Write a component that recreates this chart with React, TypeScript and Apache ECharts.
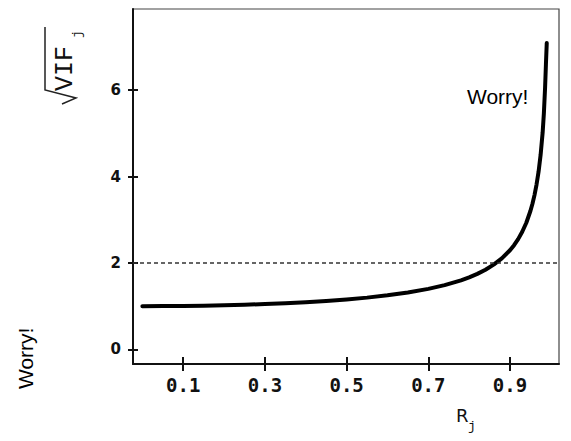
import React, { useEffect, useRef } from "react";
import * as echarts from "echarts";

const rValues = [0, 0.05, 0.1, 0.15, 0.2, 0.25, 0.3, 0.35, 0.4, 0.45, 0.5, 0.55, 0.6, 0.65, 0.7, 0.74, 0.78, 0.8, 0.82, 0.84, 0.86, 0.88, 0.9, 0.91, 0.92, 0.93, 0.94, 0.95, 0.955, 0.96, 0.965, 0.97, 0.975, 0.98, 0.983, 0.986, 0.988, 0.99];
const sqrtVif = [1.0, 1.001, 1.005, 1.011, 1.021, 1.033, 1.048, 1.068, 1.091, 1.12, 1.155, 1.197, 1.25, 1.316, 1.4, 1.487, 1.598, 1.667, 1.747, 1.843, 1.96, 2.105, 2.294, 2.412, 2.552, 2.721, 2.931, 3.203, 3.371, 3.571, 3.815, 4.113, 4.503, 5.025, 5.468, 6.074, 6.6, 7.09];
const xTicks = [0.1, 0.3, 0.5, 0.7, 0.9];
const yTicks = [0, 2, 4, 6];
const threshold = 2;

export default function App() {
  const ref = useRef<HTMLDivElement>(null);
  useEffect(() => {
    if (!ref.current) return;
    const chart = echarts.init(ref.current, undefined, { renderer: "svg" });
    const xBase = {
      type: "value" as const,
      min: -0.023,
      max: 1.02,
      splitLine: { show: false },
    };
    const yBase = {
      type: "value" as const,
      min: -0.34,
      max: 7.88,
      splitLine: { show: false },
    };
    chart.setOption({
      animation: false,
      backgroundColor: "#fff",
      grid: {
        left: 133,
        right: 12,
        top: 9,
        bottom: 77,
        show: true,
        borderColor: "#444",
        borderWidth: 1.2,
        outerBoundsMode: "none",
      },
      xAxis: [
        {
          ...xBase,
          position: "bottom",
          axisLine: { show: true, onZero: false, lineStyle: { color: "#111", width: 2 } },
          axisTick: { show: true, customValues: xTicks, length: 7, lineStyle: { color: "#111", width: 2 } },
          axisLabel: {
            customValues: xTicks,
            formatter: (v: number) => v.toFixed(1),
            margin: 11,
            fontFamily: "DejaVu Sans Mono",
            fontWeight: "bold",
            fontSize: 19,
            color: "#111",
          },
        },
        {
          ...xBase,
          position: "bottom",
          axisLine: { show: false, onZero: false },
          axisTick: { show: true, inside: true, customValues: xTicks, length: 7, lineStyle: { color: "#111", width: 2 } },
          axisLabel: { show: false },
        },
      ],
      yAxis: [
        {
          ...yBase,
          position: "left",
          axisLine: { show: true, onZero: false, lineStyle: { color: "#111", width: 2 } },
          axisTick: { show: true, customValues: yTicks, length: 5, lineStyle: { color: "#111", width: 2 } },
          axisLabel: {
            customValues: yTicks,
            margin: 12,
            fontFamily: "DejaVu Sans",
            fontWeight: "bold",
            fontSize: 15,
            color: "#111",
          },
        },
        {
          ...yBase,
          position: "left",
          axisLine: { show: false, onZero: false },
          axisTick: { show: true, inside: true, customValues: yTicks, length: 5, lineStyle: { color: "#111", width: 2 } },
          axisLabel: { show: false },
        },
      ],
      series: [
        {
          type: "line",
          data: rValues.map((r, i) => [r, sqrtVif[i]]),
          smooth: false,
          showSymbol: false,
          lineStyle: { color: "#000", width: 4, join: "round", cap: "round" },
          markLine: {
            silent: true,
            symbol: "none",
            label: { show: false },
            lineStyle: { color: "#333", type: [4, 3], width: 1.5 },
            data: [{ yAxis: threshold }],
          },
        },
      ],
      graphic: [
        {
          type: "text",
          x: 467,
          y: 86,
          style: { text: "Worry!", fontFamily: "Liberation Sans", fontSize: 21, fill: "#000" },
        },
        {
          type: "text",
          x: 15,
          y: 389,
          rotation: Math.PI / 2,
          style: { text: "Worry!", fontFamily: "Liberation Sans", fontSize: 21, fill: "#000" },
        },
        {
          type: "polyline",
          shape: { points: [[62, 104], [76, 98], [45, 90], [45, 27]] },
          style: { stroke: "#222", lineWidth: 1.5, fill: "none" },
        },
        {
          type: "text",
          x: 53,
          y: 91,
          rotation: Math.PI / 2,
          style: { text: "VIF", fontFamily: "Liberation Mono", fontSize: 25, fill: "#111" },
        },
        {
          type: "text",
          x: 71,
          y: 38,
          rotation: Math.PI / 2,
          style: { text: "j", fontFamily: "Liberation Mono", fontSize: 13, fill: "#111" },
        },
        {
          type: "text",
          x: 456,
          y: 406,
          style: { text: "R", fontFamily: "DejaVu Sans", fontSize: 18, fill: "#111" },
        },
        {
          type: "text",
          x: 468,
          y: 420,
          style: { text: "j", fontFamily: "Liberation Mono", fontSize: 13, fill: "#111" },
        },
      ],
    });
    return () => chart.dispose();
  }, []);
  return <div ref={ref} style={{ position: "fixed", left: 0, top: 0, width: 571, height: 441 }} />;
}
